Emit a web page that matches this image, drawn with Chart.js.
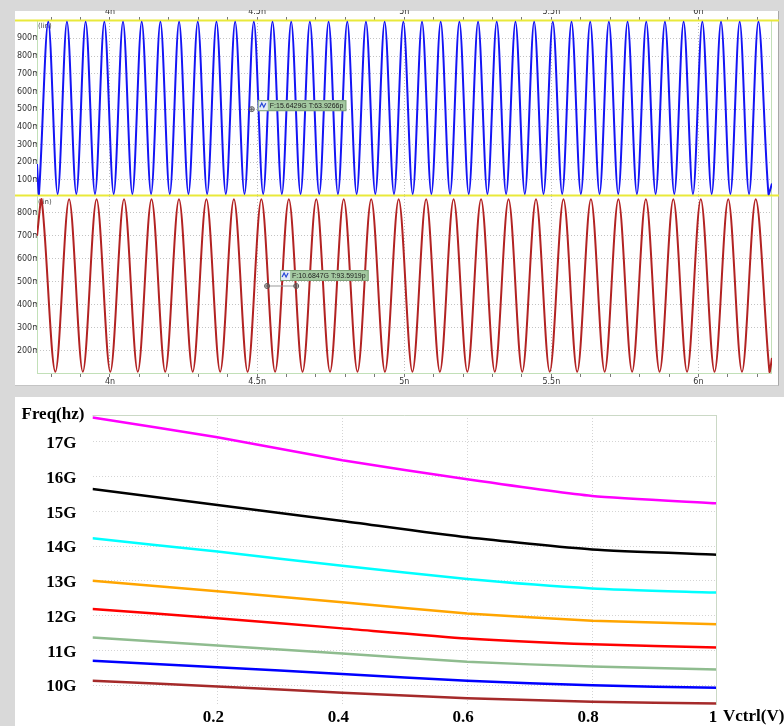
<!DOCTYPE html>
<html><head><meta charset="utf-8">
<script src="https://cdn.jsdelivr.net/npm/chart.js@4/dist/chart.umd.min.js"></script>
<style>
html,body{margin:0;padding:0;}
body{width:784px;height:726px;position:relative;overflow:hidden;background:#d9d9d9;}
.panel{position:absolute;background:#fff;}
canvas{position:absolute;}
</style></head><body>
<div class="panel" style="left:15px;top:11px;width:763px;height:374px;border-right:1px solid #a8a8a8;border-bottom:1px solid #c4c4c4"></div>
<div class="panel" style="left:15px;top:397px;width:769px;height:329px"></div>
<canvas id="cBlue" width="764" height="187" style="left:15px;top:10px"></canvas>
<canvas id="cRed" width="764" height="190" style="left:15px;top:196px"></canvas>
<canvas id="cFreq" width="769" height="329" style="left:15px;top:397px"></canvas>
<script>
// ---------- waveform data (time in ns, voltage in V) ----------
const bluePeakT = [3.7903,3.8538,3.9173,3.9808,4.0443,4.1079,4.1714,4.2349,4.2984,4.3619,4.4254,4.4889,4.5524,4.6159,4.6794,4.7430,4.8065,4.8700,4.9335,4.9970,5.0605,5.1240,5.1875,5.2510,5.3145,5.3781,5.4416,5.5051,5.5686,5.6321,5.6956,5.7591,5.8226,5.8861,5.9496,6.0132,6.0767,6.1402,6.2037];
const blueTroughT = [3.7586,3.8221,3.8856,3.9491,4.0126,4.0761,4.1397,4.2032,4.2667,4.3302,4.3937,4.4572,4.5207,4.5842,4.6477,4.7112,4.7748,4.8383,4.9018,4.9653,5.0288,5.0923,5.1558,5.2193,5.2828,5.3463,5.4099,5.4734,5.5369,5.6004,5.6639,5.7274,5.7909,5.8544,5.9179,5.9814,6.0450,6.1085,6.1720,6.2380];
const bluePeakV = 0.994, blueTroughV = 0.021;
const blueEdgeT = [3.752, 6.250], blueEdgeV = [0.19, 0.08];

const redPeakT = [3.7678,3.8611,3.9545,4.0478,4.1412,4.2345,4.3278,4.4212,4.5145,4.6079,4.7012,4.7945,4.8879,4.9812,5.0746,5.1679,5.2612,5.3546,5.4479,5.5413,5.6346,5.7279,5.8213,5.9146,6.0080,6.1013,6.1946];
const redTroughT = [3.8145,3.9078,4.0012,4.0945,4.1879,4.2812,4.3745,4.4679,4.5612,4.6546,4.7479,4.8412,4.9346,5.0279,5.1213,5.2146,5.3079,5.4013,5.4946,5.5880,5.6813,5.7746,5.8680,5.9613,6.0547,6.1480,6.2413];
const redPeakV = 0.858, redTroughV = 0.110;
const redEdgeT = [3.752, 6.250], redEdgeV = [0.70, 0.17];

const timeTicks = [3.8,3.9,4.0,4.1,4.2,4.3,4.4,4.5,4.6,4.7,4.8,4.9,5.0,5.1,5.2,5.3,5.4,5.5,5.6,5.7,5.8,5.9,6.0,6.1,6.2];
const timeLabelValues = [4, 4.5, 5, 5.5, 6];
const timeLabelText = ['4n','4.5n','5n','5.5n','6n'];
const blueLevelTicks = [0.1,0.2,0.3,0.4,0.5,0.6,0.7,0.8,0.9];
const redLevelTicks = [0.2,0.3,0.4,0.5,0.6,0.7,0.8];
const blueMeasure = {t:4.482, v:0.5, text:'F:15.6429G T:63.9266p'};
const redMeasure = {t1:4.534, t2:4.633, v:0.482, text:'F:10.6847G T:93.5919p'};

// ---------- Freq vs Vctrl data ----------
const vctrl = [0, 0.2, 0.4, 0.6, 0.8, 1.0];
const fMagenta = [17.70, 17.13, 16.47, 15.92, 15.44, 15.23];
const fBlack   = [15.64, 15.18, 14.72, 14.25, 13.90, 13.75];
const fCyan    = [14.22, 13.84, 13.43, 13.05, 12.78, 12.66];
const fOrange  = [13.00, 12.70, 12.38, 12.06, 11.85, 11.75];
const fRed     = [12.19, 11.92, 11.63, 11.34, 11.17, 11.08];
const fGreen   = [11.37, 11.14, 10.91, 10.67, 10.53, 10.45];
const fBlue    = [10.70, 10.51, 10.32, 10.12, 9.99, 9.92];
const fBrown   = [10.12, 9.96, 9.78, 9.62, 9.52, 9.47];
const freqTicks = [10,11,12,13,14,15,16,17];
const vTicks = [0.2,0.4,0.6,0.8,1.0];
const vTickText = ['0.2','0.4','0.6','0.8','1'];

// ---------- helpers ----------
function wavePoints(peaks, troughs, hi, lo, edgeT, edgeV){
  const pts = [];
  peaks.forEach(t => pts.push({x:t, y:hi}));
  troughs.forEach(t => pts.push({x:t, y:lo}));
  edgeT.forEach((t,i) => pts.push({x:t, y:edgeV[i]}));
  pts.sort((a,b) => a.x - b.x);
  return pts;
}
const isMajor = v => timeLabelValues.some(x => Math.abs(x - v) < 1e-6);
const smallFont = {family:'DejaVu Sans', size:8};
function noPad(s){ s.paddingTop = 0; s.paddingBottom = 0; s.paddingLeft = 0; s.paddingRight = 0; }

function timeAxis(position, h){
  return {
    type:'linear', position, min:3.752, max:6.250,
    afterBuildTicks: s => { s.ticks = timeTicks.map(v => ({value:v})); },
    afterFit: s => { s.height = h; noPad(s); },
    ticks:{autoSkip:false, maxRotation:0, minRotation:0, padding:0, color:'#333', font:smallFont,
      callback: v => { const i = timeLabelValues.findIndex(x => Math.abs(x - v) < 1e-6); return i >= 0 ? timeLabelText[i] : ''; }},
    grid:{drawTicks:true, tickLength:3, tickColor:'#777', tickWidth:1,
      color: c => (c.tick && isMajor(c.tick.value)) ? '#bdbdbd' : 'rgba(0,0,0,0)', lineWidth:1},
    border:{display:false, dash:[1,2]}
  };
}
function levelAxis(min, max, list){
  return {
    type:'linear', min, max,
    afterBuildTicks: s => { s.ticks = list.map(v => ({value:v})); },
    afterFit: s => { s.width = 22; noPad(s); },
    ticks:{padding:-3, color:'#333', font:smallFont, callback: v => Math.round(v*1000) + 'm'},
    grid:{drawTicks:false, color:'#c4c4c4', lineWidth:1},
    border:{display:false, dash:[1,2]}
  };
}
function seg(ctx, x1, y1, x2, y2){ ctx.beginPath(); ctx.moveTo(x1,y1); ctx.lineTo(x2,y2); ctx.stroke(); }
function tag(ctx, x, y, text){
  ctx.save();
  ctx.font = '7px "Liberation Sans"';
  const w = ctx.measureText(text).width + 15;
  ctx.fillStyle = '#a3c8a0'; ctx.fillRect(x, y, w, 11);
  ctx.strokeStyle = '#7ea27b'; ctx.lineWidth = 1; ctx.strokeRect(x+0.5, y+0.5, w-1, 10);
  ctx.fillStyle = '#e4ecf6'; ctx.fillRect(x+1, y+1, 9, 9);
  ctx.strokeStyle = '#2546d8'; ctx.lineWidth = 1.2;
  ctx.beginPath(); ctx.moveTo(x+2, y+7); ctx.lineTo(x+4, y+3); ctx.lineTo(x+6, y+7); ctx.lineTo(x+8, y+3); ctx.stroke();
  ctx.fillStyle = '#1c1c1c'; ctx.textBaseline = 'middle'; ctx.textAlign = 'left';
  ctx.fillText(text, x+12, y+6);
  ctx.restore();
}
function handle(ctx, x, y){
  ctx.save(); ctx.strokeStyle = '#555'; ctx.lineWidth = 1;
  ctx.beginPath(); ctx.arc(x, y, 2.5, 0, Math.PI*2); ctx.stroke();
  seg(ctx, x-2, y, x+2, y); seg(ctx, x, y-2, x, y+2);
  ctx.restore();
}

const wavePlugin = {
  id:'waveDecor',
  beforeDatasetsDraw(chart, args, opts){
    const {ctx, chartArea:a} = chart;
    ctx.save();
    ctx.strokeStyle = '#c2e0b8'; ctx.lineWidth = 1;
    seg(ctx, a.left+0.5, a.top, a.left+0.5, a.bottom);
    seg(ctx, a.right-0.5, a.top, a.right-0.5, a.bottom);
    if (opts.kind === 'red') seg(ctx, a.left, a.bottom-0.5, a.right, a.bottom-0.5);
    if (opts.kind === 'blue') {
      ctx.strokeStyle = '#e9e93a'; ctx.lineWidth = 2;
      seg(ctx, 0, a.top+0.5, chart.width, a.top+0.5);
      seg(ctx, 0, a.bottom-0.5, chart.width, a.bottom-0.5);
    }
    ctx.fillStyle = '#444'; ctx.font = '7px "DejaVu Sans"'; ctx.textBaseline = 'top';
    ctx.fillText('(lin)', a.left+1, a.top+3);
    ctx.restore();
  },
  afterDatasetsDraw(chart, args, opts){
    const {ctx, scales:{x, y}} = chart;
    if (opts.kind === 'blue') {
      const px = x.getPixelForValue(blueMeasure.t), py = y.getPixelForValue(blueMeasure.v);
      handle(ctx, px, py);
      tag(ctx, px+6, py-9, blueMeasure.text);
    } else {
      const p1 = x.getPixelForValue(redMeasure.t1), p2 = x.getPixelForValue(redMeasure.t2), py = y.getPixelForValue(redMeasure.v);
      ctx.save(); ctx.strokeStyle = '#999'; ctx.lineWidth = 1; seg(ctx, p1, py, p2, py); ctx.restore();
      handle(ctx, p1, py); handle(ctx, p2, py);
      tag(ctx, p1+13, py-16, redMeasure.text);
    }
  }
};

Chart.defaults.animation = false;

new Chart(document.getElementById('cBlue'), {
  type:'line',
  data:{datasets:[{data:wavePoints(bluePeakT, blueTroughT, bluePeakV, blueTroughV, blueEdgeT, blueEdgeV),
    borderColor:'#1414f5', borderWidth:2, pointRadius:0, tension:0.33, fill:false}]},
  options:{responsive:false, animation:false, events:[],
    layout:{padding:{left:0, right:7, top:0, bottom:1}},
    plugins:{legend:{display:false}, tooltip:{enabled:false}, waveDecor:{kind:'blue'}},
    scales:{x:timeAxis('top', 10), y:levelAxis(0.0096, 1.0034, blueLevelTicks)}},
  plugins:[wavePlugin]
});

new Chart(document.getElementById('cRed'), {
  type:'line',
  data:{datasets:[{data:wavePoints(redPeakT, redTroughT, redPeakV, redTroughV, redEdgeT, redEdgeV),
    borderColor:'#b22222', borderWidth:2, pointRadius:0, tension:0.33, fill:false}]},
  options:{responsive:false, animation:false, events:[],
    layout:{padding:{left:0, right:7, top:0, bottom:0}},
    plugins:{legend:{display:false}, tooltip:{enabled:false}, waveDecor:{kind:'red'}},
    scales:{x:timeAxis('bottom', 12), y:levelAxis(0.1002, 0.8725, redLevelTicks)}},
  plugins:[wavePlugin]
});

// ---------- Freq chart ----------
const serif = {family:'"Liberation Serif", "Times New Roman", serif', size:17, weight:'bold'};
const freqPlugin = {
  id:'freqDecor',
  afterDraw(chart){
    const {ctx, chartArea:a} = chart;
    ctx.save();
    ctx.strokeStyle = '#cbd9c6'; ctx.lineWidth = 1;
    seg(ctx, a.left, a.top+0.5, a.right, a.top+0.5);
    seg(ctx, a.right-0.5, a.top, a.right-0.5, a.bottom);
    ctx.fillStyle = '#000'; ctx.font = 'bold 17px "Liberation Serif"'; ctx.textBaseline = 'middle';
    ctx.textAlign = 'left';
    ctx.fillText('Freq(hz)', 6.5, 18);
    ctx.fillText('Vctrl(V)', a.right + 6, a.bottom + 12);
    ctx.restore();
  }
};
function ds(vals, color){
  return {data:vals.map((v,i) => ({x:vctrl[i], y:v})), borderColor:color, borderWidth:2.5, pointRadius:0, tension:0.2, fill:false};
}
new Chart(document.getElementById('cFreq'), {
  type:'line',
  data:{datasets:[
    ds(fMagenta,'#ff00ff'), ds(fBlack,'#000000'), ds(fCyan,'#00ffff'), ds(fOrange,'#ffa500'),
    ds(fRed,'#ff0000'), ds(fGreen,'#8fbc8f'), ds(fBlue,'#0000ff'), ds(fBrown,'#a52a2a')
  ]},
  options:{responsive:false, animation:false, events:[],
    layout:{padding:{left:0, right:67, top:18, bottom:0}},
    plugins:{legend:{display:false}, tooltip:{enabled:false}},
    scales:{
      x:{type:'linear', min:0, max:1,
        afterBuildTicks: s => { s.ticks = vTicks.map(v => ({value:v})); },
        afterFit: s => { s.height = 21; noPad(s); },
        ticks:{autoSkip:false, maxRotation:0, padding:2, labelOffset:-4, color:'#000', font:serif,
          callback: v => { const i = vTicks.findIndex(t => Math.abs(t - v) < 1e-6); return i >= 0 ? vTickText[i] : ''; }},
        grid:{drawTicks:false, color: c => (c.tick && c.tick.value >= 0.999) ? 'rgba(0,0,0,0)' : '#d4d4d4', lineWidth:1},
        border:{display:false, dash:[1,2]}},
      y:{type:'linear', min:9.425, max:17.77,
        afterBuildTicks: s => { s.ticks = freqTicks.map(v => ({value:v})); },
        afterFit: s => { s.width = 77.5; noPad(s); },
        ticks:{padding:16, labelOffset:2, color:'#000', font:serif, callback: v => v + 'G'},
        grid:{drawTicks:false, color:'#d4d4d4', lineWidth:1},
        border:{display:false, dash:[1,2]}}
    }},
  plugins:[freqPlugin]
});
</script>
</body></html>
